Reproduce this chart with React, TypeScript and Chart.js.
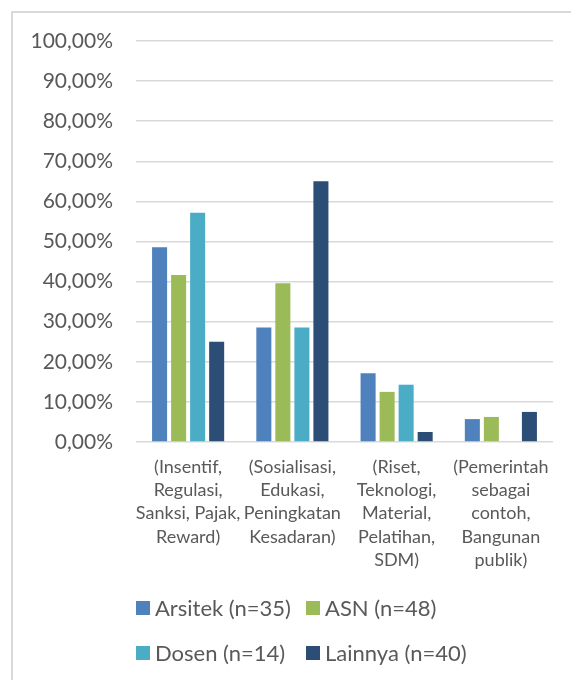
import React, { useEffect, useRef } from "react";
import { Chart, registerables } from "chart.js";

Chart.register(...registerables);

const categories: string[][] = [
  ["(Insentif,", "Regulasi,", "Sanksi, Pajak,", "Reward)"],
  ["(Sosialisasi,", "Edukasi,", "Peningkatan", "Kesadaran)"],
  ["(Riset,", "Teknologi,", "Material,", "Pelatihan,", "SDM)"],
  ["(Pemerintah", "sebagai", "contoh,", "Bangunan", "publik)"],
];

const seriesNames = ["Arsitek (n=35)", "ASN (n=48)", "Dosen (n=14)", "Lainnya (n=40)"];
const seriesColors = ["#4F81BD", "#9BBB59", "#4BACC6", "#2C4D75"];

const arsitek = [48.57, 28.57, 17.14, 5.71];
const asn = [41.67, 39.58, 12.5, 6.25];
const dosen = [57.14, 28.57, 14.29, 0];
const lainnya = [25.0, 65.0, 2.5, 7.5];

const yMin = 0;
const yMax = 100;
const yStep = 10;

const FONT = "Lato, 'Open Sans', sans-serif";
const TEXT = "#595959";

const legendPlugin = {
  id: "gridLegend",
  afterDraw(chart: any) {
    const ctx = chart.ctx;
    const left = chart.chartArea.left;
    const cols = [left, left + 170];
    const rows = [608, 653];
    ctx.save();
    ctx.font = `22px ${FONT}`;
    ctx.textBaseline = "middle";
    ctx.textAlign = "left";
    chart.data.datasets.forEach((ds: any, i: number) => {
      const x = cols[i % 2];
      const y = rows[Math.floor(i / 2)];
      ctx.fillStyle = ds.backgroundColor;
      ctx.fillRect(x, y - 7, 14, 14);
      ctx.fillStyle = TEXT;
      ctx.fillText(ds.label, x + 19, y + 1);
    });
    ctx.restore();
  },
};

export default function App() {
  const ref = useRef<HTMLCanvasElement | null>(null);

  useEffect(() => {
    if (!ref.current) return;
    const values = [arsitek, asn, dosen, lainnya];
    const chart = new Chart(ref.current, {
      type: "bar",
      data: {
        labels: categories,
        datasets: seriesNames.map((name, i) => ({
          label: name,
          data: values[i],
          backgroundColor: seriesColors[i],
          borderWidth: 0,
          categoryPercentage: 0.73,
          barPercentage: 0.79,
        })),
      },
      options: {
        animation: false,
        responsive: false,
        maintainAspectRatio: false,
        layout: { padding: { left: 0, top: 41, right: 18, bottom: 98 } },
        plugins: {
          legend: { display: false },
          tooltip: { enabled: false },
        },
        scales: {
          x: {
            grid: { display: false, drawTicks: false },
            border: { display: false },
            ticks: {
              color: TEXT,
              font: { family: FONT, size: 18, lineHeight: 1.3 },
              padding: 13,
              maxRotation: 0,
              autoSkip: false,
            },
            afterFit: (s: any) => {
              s.height = 140;
            },
          },
          y: {
            min: yMin,
            max: yMax,
            grid: { color: "#d9d9d9", lineWidth: 1.5, drawTicks: false },
            border: { display: false },
            ticks: {
              stepSize: yStep,
              color: TEXT,
              font: { family: FONT, size: 21 },
              padding: 23,
              callback: (v: any) => Number(v).toFixed(2).replace(".", ",") + "%",
            },
            afterFit: (s: any) => {
              s.width = 136;
            },
          },
        },
      },
      plugins: [legendPlugin],
    });
    return () => chart.destroy();
  }, []);

  return (
    <div style={{ position: "fixed", left: 0, top: 0, width: 571, height: 680, background: "#fff", overflow: "hidden" }}>
      <div
        style={{
          position: "absolute",
          left: 11,
          top: 11,
          width: 600,
          height: 700,
          borderLeft: "2px solid #d9d9d9",
          borderTop: "2px solid #d9d9d9",
        }}
      />
      <canvas ref={ref} width={571} height={680} style={{ position: "absolute", left: 0, top: 0 }} />
    </div>
  );
}
